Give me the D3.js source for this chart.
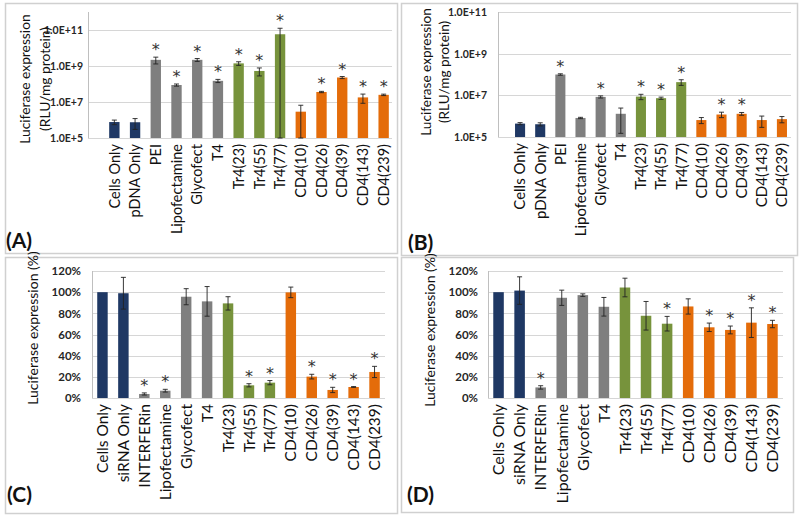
<!DOCTYPE html>
<html><head><meta charset="utf-8">
<script src="https://cdn.jsdelivr.net/npm/d3@7"></script>
<style>
body{margin:0;background:#fff;}
svg{display:block;font-family:Lato,"Open Sans",sans-serif;}
</style></head>
<body><svg id="c" width="800" height="517"></svg>
<script>
// ---------- DATA ----------
const catsAB = ["Cells Only","pDNA Only","PEI","Lipofectamine","Glycofect","T4","Tr4(23)","Tr4(55)","Tr4(77)","CD4(10)","CD4(26)","CD4(39)","CD4(143)","CD4(239)"];
const catsCD = ["Cells Only","siRNA Only","INTERFERin","Lipofectamine","Glycofect","T4","Tr4(23)","Tr4(55)","Tr4(77)","CD4(10)","CD4(26)","CD4(39)","CD4(143)","CD4(239)"];
const groups = ["ctrl","ctrl","lit","lit","lit","lit","tr4","tr4","tr4","cd4","cd4","cd4","cd4","cd4"];
const groupColors = {ctrl:"#1f3864", lit:"#7f7f7f", tr4:"#77933c", cd4:"#e46c0a"};

const valuesA = [7.7e5, 7.5e5, 2.2e9, 8.8e7, 2.2e9, 1.5e8, 1.4e9, 5.3e8, 5.8e10, 2.9e6, 3.6e7, 2.3e8, 1.8e7, 2.5e7];
const errorsA = [2.2e5, 4.5e5, 9e8, 1.2e7, 4e8, 3e7, 3.2e8, 2.5e8, 6.7e10, 3.7e6, 3e6, 3e7, 9.5e6, 2.3e6];
const starsA  = [0,0,1,1,1,1,1,1,1,0,1,1,1,1];

const valuesB = [4.4e5, 4.1e5, 1.0e8, 8.2e5, 8.4e6, 1.3e6, 8.7e6, 7.3e6, 4.3e7, 6.5e5, 1.2e6, 1.3e6, 6.5e5, 7.2e5];
const errorsB = [5e4, 7e4, 8e6, 6e4, 1e6, 1.15e6, 2.5e6, 9e5, 1.3e7, 2.1e5, 3.5e5, 2e5, 3.6e5, 2.4e5];
const starsB  = [0,0,1,0,1,0,1,1,1,0,1,1,0,0];

const valuesC = [1.00, 0.99, 0.038, 0.069, 0.957, 0.913, 0.894, 0.12, 0.145, 0.998, 0.202, 0.076, 0.104, 0.246];
const errorsC = [0.0, 0.15, 0.01, 0.013, 0.076, 0.14, 0.063, 0.015, 0.02, 0.05, 0.022, 0.025, 0.004, 0.053];
const starsC  = [0,0,1,1,0,0,0,1,1,0,1,1,1,1];

const valuesD = [1.00, 1.015, 0.10, 0.947, 0.972, 0.862, 1.044, 0.777, 0.702, 0.865, 0.668, 0.643, 0.712, 0.699];
const errorsD = [0.0, 0.13, 0.016, 0.072, 0.012, 0.088, 0.088, 0.135, 0.069, 0.072, 0.04, 0.037, 0.14, 0.035];
const starsD  = [0,0,1,0,0,0,0,0,1,0,1,1,1,1];

const logTicks = [1e5, 1e7, 1e9, 1e11];
const pctTicks = [0, 0.2, 0.4, 0.6, 0.8, 1.0, 1.2];

// ---------- DRAW ----------
const svg = d3.select("#c");
const FONT = "Lato, 'Open Sans', sans-serif";

// panel frames
const frames = [[5,3,392,250],[401,3,396,252],[5,257,392,256],[401,257,392,255]];
svg.selectAll("rect.frame").data(frames).join("rect")
  .attr("x",d=>d[0]+0.5).attr("y",d=>d[1]+0.5).attr("width",d=>d[2]).attr("height",d=>d[3])
  .attr("fill","none").attr("stroke","#d0d0d0").attr("stroke-width",1.5);

function drawPanel(cfg){
  const g = svg.append("g");
  const x = d3.scaleBand().domain(cfg.cats).range(cfg.band).paddingInner(0.5).paddingOuter(0.25);
  const y = cfg.log ? d3.scaleLog().domain(cfg.ydom).range(cfg.yrange)
                    : d3.scaleLinear().domain(cfg.ydom).range(cfg.yrange);
  // gridlines
  g.selectAll("line.grid").data(cfg.ticks).join("line")
    .attr("x1",cfg.axisX).attr("x2",cfg.gridRight)
    .attr("y1",d=>Math.round(y(d))+0.5).attr("y2",d=>Math.round(y(d))+0.5)
    .attr("stroke","#d6d6d6").attr("stroke-width",1);
  // y axis line
  g.append("line").attr("x1",cfg.axisX+0.5).attr("x2",cfg.axisX+0.5)
    .attr("y1",cfg.yrange[1]).attr("y2",cfg.yrange[0]).attr("stroke","#bfbfbf");
  // y tick labels
  const ax = d3.axisLeft(y).tickValues(cfg.ticks).tickSize(0).tickPadding(cfg.tickPad).tickFormat(cfg.fmt);
  const ag = g.append("g").attr("transform",`translate(${cfg.axisX},0)`).call(ax);
  ag.select(".domain").remove();
  ag.selectAll("text").attr("font-family",FONT).attr("font-weight","bold")
    .attr("font-size",cfg.tickFs).attr("fill","#262626");
  // bars
  const data = cfg.cats.map((c,i)=>({c, v:cfg.values[i], e:cfg.errors[i], s:cfg.stars[i], g:groups[i]}));
  const base = cfg.yrange[0];
  g.selectAll("rect.bar").data(data).join("rect")
    .attr("x",d=>x(d.c)).attr("width",x.bandwidth())
    .attr("y",d=>y(d.v)).attr("height",d=>base-y(d.v))
    .attr("fill",d=>groupColors[d.g]);
  // error bars
  const lo = d=>{const l=d.v-d.e; return cfg.log ? Math.max(l, cfg.ydom[0]) : l;};
  const eg = g.selectAll("g.err").data(data.filter(d=>d.e>0)).join("g");
  const cx = d=>x(d.c)+x.bandwidth()/2;
  eg.append("line").attr("x1",cx).attr("x2",cx).attr("y1",d=>y(d.v+d.e)).attr("y2",d=>y(lo(d)))
    .attr("stroke","#222").attr("stroke-width",0.9);
  eg.append("line").attr("x1",d=>cx(d)-2.5).attr("x2",d=>cx(d)+2.5).attr("y1",d=>y(d.v+d.e)).attr("y2",d=>y(d.v+d.e))
    .attr("stroke","#222").attr("stroke-width",0.9);
  eg.append("line").attr("x1",d=>cx(d)-2.5).attr("x2",d=>cx(d)+2.5).attr("y1",d=>y(lo(d))).attr("y2",d=>y(lo(d)))
    .attr("stroke","#222").attr("stroke-width",0.9);
  // asterisks
  g.selectAll("text.star").data(data.filter(d=>d.s)).join("text")
    .attr("x",cx).attr("y",d=>y(d.v+d.e)-cfg.starGap)
    .attr("text-anchor","middle").attr("font-size",16).attr("font-family","'DejaVu Sans', sans-serif")
    .attr("fill","#333").text("*");
  // category labels
  g.selectAll("text.cat").data(data).join("text")
    .attr("transform",d=>`translate(${cx(d)},${base+cfg.labGap}) rotate(-90)`)
    .attr("text-anchor","end").attr("dy","0.36em").attr("font-family",FONT)
    .attr("font-size",cfg.catFs).attr("fill","#111").text(d=>d.c);
  // y titles
  cfg.titles.forEach(t=>{
    g.append("text").attr("transform",`translate(${t[0]},${t[1]}) rotate(-90)`)
      .attr("text-anchor","middle").attr("dy","0.36em").attr("font-family",FONT)
      .attr("font-size",cfg.titleFs).attr("fill","#111").text(t[2]);
  });
  // panel letter
  g.append("text").attr("x",cfg.letter[0]).attr("y",cfg.letter[1]).attr("font-family",FONT)
    .attr("font-size",21).attr("font-weight","bold").attr("fill","#111").text(cfg.letter[2]);
}

const fmtE = d=>"1.0E+"+Math.round(Math.log10(d));
const fmtP = d=>Math.round(d*100)+"%";

drawPanel({cats:catsAB, values:valuesA, errors:errorsA, stars:starsA, log:true,
  ydom:[1e5,1e12], yrange:[138,12], ticks:logTicks, fmt:fmtE,
  axisX:88, gridRight:392, band:[104,394], tickPad:5, tickFs:10.5, starGap:2,
  catFs:14.5, labGap:6, titleFs:13.8,
  titles:[[25,79,"Luciferase expression"],[45,79,"(RLU/mg protein)"]], letter:[6,248,"(A)"]});

drawPanel({cats:catsAB, values:valuesB, errors:errorsB, stars:starsB, log:true,
  ydom:[1e5,1e11], yrange:[137,12], ticks:logTicks, fmt:fmtE,
  axisX:498, gridRight:791, band:[510,792], tickPad:11, tickFs:10.5, starGap:2,
  catFs:15, labGap:6, titleFs:13.6,
  titles:[[426,72,"Luciferase expression"],[444,72,"(RLU/mg protein)"]], letter:[408,250,"(B)"]});

drawPanel({cats:catsCD, values:valuesC, errors:errorsC, stars:starsC, log:false,
  ydom:[0,1.2], yrange:[398,271], ticks:pctTicks, fmt:fmtP,
  axisX:92, gridRight:385, band:[92,385], tickPad:11, tickFs:11.5, starGap:2,
  catFs:15.5, labGap:6, titleFs:14,
  titles:[[33,328,"Luciferase expression (%)"]], letter:[7,502,"(C)"]});

drawPanel({cats:catsCD, values:valuesD, errors:errorsD, stars:starsD, log:false,
  ydom:[0,1.2], yrange:[398,271], ticks:pctTicks, fmt:fmtP,
  axisX:488, gridRight:783, band:[488,783], tickPad:10, tickFs:11.5, starGap:2,
  catFs:16, labGap:6, titleFs:14,
  titles:[[430,330,"Luciferase expression (%)"]], letter:[407,502,"(D)"]});
</script></body></html>
